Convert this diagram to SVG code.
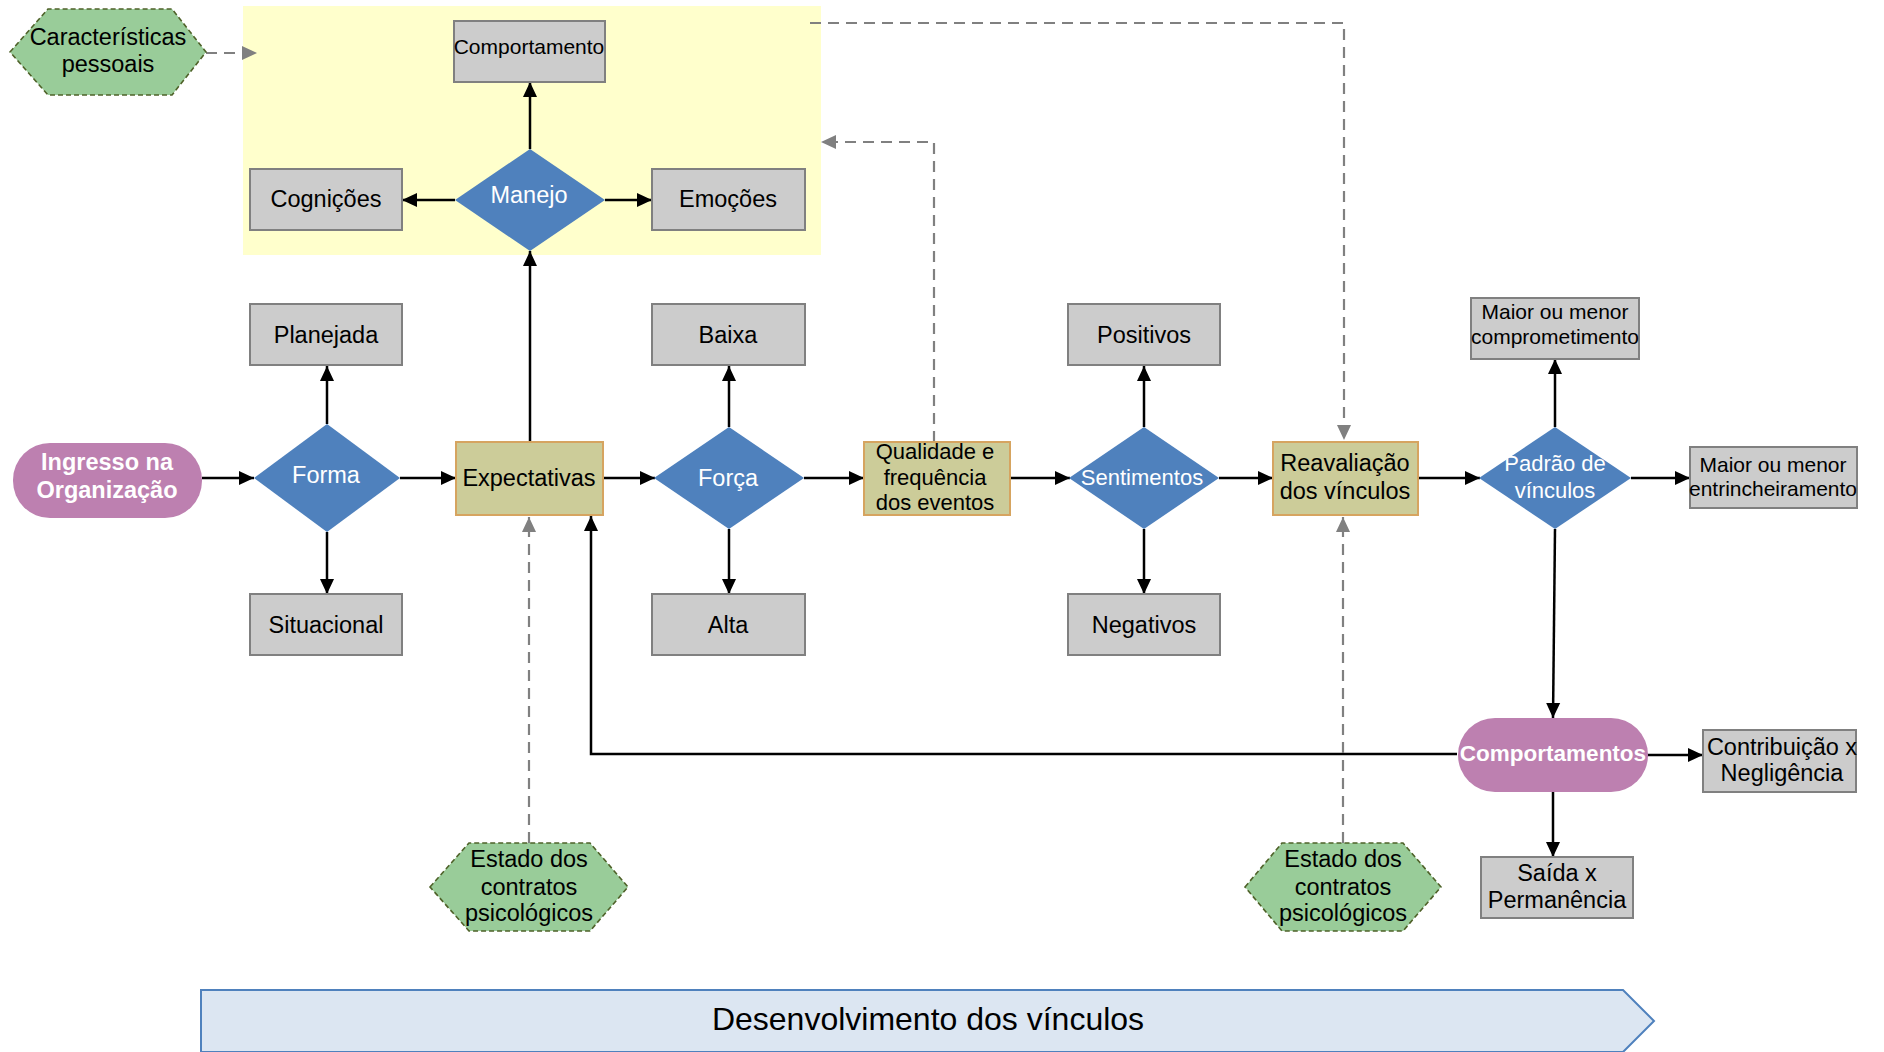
<svg xmlns="http://www.w3.org/2000/svg" width="1884" height="1052" viewBox="0 0 1884 1052">
  <defs>
    <marker id="ah" markerUnits="userSpaceOnUse" markerWidth="16" markerHeight="16" refX="15" refY="8" orient="auto">
      <path d="M0,1 L15,8 L0,15 z" fill="#000"/>
    </marker>
    <marker id="ahg" markerUnits="userSpaceOnUse" markerWidth="16" markerHeight="16" refX="15" refY="8" orient="auto">
      <path d="M0,1 L15,8 L0,15 z" fill="#808080"/>
    </marker>
    <style>
      text { font-family: "Liberation Sans", Arial, sans-serif; font-size: 23.5px; fill: #000; text-anchor: middle; }
      .small { font-size: 21px; }
      .w { fill: #fff; }
      .wb { fill: #fff; font-weight: bold; }
      .box { fill: #cccccc; stroke: #808080; stroke-width: 2; }
      .kbox { fill: #cccc99; stroke: #d6a460; stroke-width: 2; }
      .dia { fill: #4f81bd; }
      .pill { fill: #bd80b0; }
      .hex { fill: #99cc99; stroke: #4e6128; stroke-width: 1.6; stroke-dasharray: 5 3; }
      .ln { fill: none; stroke: #000; stroke-width: 2.5; marker-end: url(#ah); }
      .dl { fill: none; stroke: #808080; stroke-width: 2.2; stroke-dasharray: 11 7; marker-end: url(#ahg); }
    </style>
  </defs>

  <!-- management area background -->
  <rect x="243" y="6" width="578" height="249" fill="#ffffcc"/>

  <!-- development band -->
  <g id="band">
    <path d="M201,990 L1623,990 L1654,1021 L1623,1052 L201,1052 z" fill="#dce6f2" stroke="#4f81bd" stroke-width="2"/>
    <text x="928" y="1030" style="font-size:32px">Desenvolvimento dos vínculos</text>
  </g>

  <!-- connectors -->
  <g id="connectors">
    <path class="ln" d="M202,478 L254,478"/>
    <path class="ln" d="M400,478 L456,478"/>
    <path class="ln" d="M327,424 L327,366"/>
    <path class="ln" d="M327,532 L327,594"/>
    <path class="ln" d="M530,442 L530,251"/>
    <path class="ln" d="M530,149 L530,82"/>
    <path class="ln" d="M455,200 L402,200"/>
    <path class="ln" d="M605,200 L652,200"/>
    <path class="ln" d="M603,478 L655,478"/>
    <path class="ln" d="M729,427 L729,366"/>
    <path class="ln" d="M729,529 L729,594"/>
    <path class="ln" d="M804,478 L864,478"/>
    <path class="ln" d="M1010,478 L1070,478"/>
    <path class="ln" d="M1144,427 L1144,366"/>
    <path class="ln" d="M1144,529 L1144,594"/>
    <path class="ln" d="M1219,478 L1273,478"/>
    <path class="ln" d="M1418,478 L1480,478"/>
    <path class="ln" d="M1555,427 L1555,359"/>
    <path class="ln" d="M1631,478 L1690,478"/>
    <path class="ln" d="M1555,529 L1553,718"/>
    <path class="ln" d="M1647,755 L1703,755"/>
    <path class="ln" d="M1553,792 L1553,857"/>
    <path class="ln" d="M1457,754 L591,754 L591,516"/>

    <path class="dl" d="M206,53 L257,53"/>
    <path class="dl" d="M934,442 L934,142 L821,142"/>
    <path class="dl" d="M810,23 L1344,23 L1344,440"/>
    <path class="dl" d="M529,843 L529,517"/>
    <path class="dl" d="M1343,843 L1343,517"/>
  </g>

  <!-- nodes -->
  <g id="caracteristicas">
    <polygon class="hex" points="10,52 48,9 172,9 206,52 172,95 48,95"/>
    <text x="108" y="45">Características</text>
    <text x="108" y="72">pessoais</text>
  </g>
  <g id="comportamento">
    <rect class="box" x="454" y="21" width="151" height="61"/>
    <text class="small" x="529" y="54">Comportamento</text>
  </g>
  <g id="cognicoes">
    <rect class="box" x="250" y="169" width="152" height="61"/>
    <text x="326" y="207">Cognições</text>
  </g>
  <g id="manejo">
    <polygon class="dia" points="530,149 605,200 530,251 455,200"/>
    <text class="w" x="529" y="203">Manejo</text>
  </g>
  <g id="emocoes">
    <rect class="box" x="652" y="169" width="153" height="61"/>
    <text x="728" y="207">Emoções</text>
  </g>

  <g id="ingresso">
    <rect class="pill" x="13" y="443" width="189" height="75" rx="37" ry="37"/>
    <text class="wb" x="107" y="470">Ingresso na</text>
    <text class="wb" x="107" y="498">Organização</text>
  </g>
  <g id="forma">
    <polygon class="dia" points="327,424 400,478 327,532 254,478"/>
    <text class="w" x="326" y="483">Forma</text>
  </g>
  <g id="planejada">
    <rect class="box" x="250" y="304" width="152" height="61"/>
    <text x="326" y="343">Planejada</text>
  </g>
  <g id="situacional">
    <rect class="box" x="250" y="594" width="152" height="61"/>
    <text x="326" y="633">Situacional</text>
  </g>
  <g id="expectativas">
    <rect class="kbox" x="456" y="442" width="147" height="73"/>
    <text x="529" y="486">Expectativas</text>
  </g>
  <g id="forca">
    <polygon class="dia" points="729,427 804,478 729,529 654,478"/>
    <text class="w" x="728" y="486">Força</text>
  </g>
  <g id="baixa">
    <rect class="box" x="652" y="304" width="153" height="61"/>
    <text x="728" y="343">Baixa</text>
  </g>
  <g id="alta">
    <rect class="box" x="652" y="594" width="153" height="61"/>
    <text x="728" y="633">Alta</text>
  </g>
  <g id="qualidade">
    <rect class="kbox" x="864" y="442" width="146" height="73"/>
    <text x="935" y="459" style="font-size:22px">Qualidade e</text>
    <text x="935" y="485" style="font-size:22px">frequência</text>
    <text x="935" y="510" style="font-size:22px">dos eventos</text>
  </g>
  <g id="sentimentos">
    <polygon class="dia" points="1144,427 1219,478 1144,529 1069,478"/>
    <text class="w" x="1142" y="485" style="font-size:22px">Sentimentos</text>
  </g>
  <g id="positivos">
    <rect class="box" x="1068" y="304" width="152" height="61"/>
    <text x="1144" y="343">Positivos</text>
  </g>
  <g id="negativos">
    <rect class="box" x="1068" y="594" width="152" height="61"/>
    <text x="1144" y="633">Negativos</text>
  </g>
  <g id="reavaliacao">
    <rect class="kbox" x="1273" y="442" width="145" height="73"/>
    <text x="1345" y="471">Reavaliação</text>
    <text x="1345" y="499">dos vínculos</text>
  </g>
  <g id="padrao">
    <polygon class="dia" points="1555,427 1631,478 1555,529 1479,478"/>
    <text class="w" x="1555" y="471" style="font-size:22px">Padrão de</text>
    <text class="w" x="1555" y="498" style="font-size:22px">vínculos</text>
  </g>
  <g id="comprometimento">
    <rect class="box" x="1471" y="298" width="168" height="61"/>
    <text class="small" x="1555" y="319">Maior ou menor</text>
    <text class="small" x="1555" y="344">comprometimento</text>
  </g>
  <g id="entrincheiramento">
    <rect class="box" x="1690" y="447" width="167" height="61"/>
    <text class="small" x="1773" y="472">Maior ou menor</text>
    <text class="small" x="1773" y="496">entrincheiramento</text>
  </g>
  <g id="comportamentos">
    <rect class="pill" x="1458" y="718" width="190" height="74" rx="37" ry="37"/>
    <text class="wb" x="1553" y="761" style="font-size:22.5px">Comportamentos</text>
  </g>
  <g id="contribuicao">
    <rect class="box" x="1703" y="730" width="153" height="62"/>
    <text x="1782" y="755">Contribuição x</text>
    <text x="1782" y="781">Negligência</text>
  </g>
  <g id="saida">
    <rect class="box" x="1481" y="857" width="152" height="61"/>
    <text x="1557" y="881">Saída x</text>
    <text x="1557" y="908">Permanência</text>
  </g>
  <g id="estado1">
    <polygon class="hex" points="430,887 469,843 590,843 628,887 590,931 469,931"/>
    <text x="529" y="867">Estado dos</text>
    <text x="529" y="895">contratos</text>
    <text x="529" y="921">psicológicos</text>
  </g>
  <g id="estado2">
    <polygon class="hex" points="1245,887 1282,843 1403,843 1441,887 1403,931 1282,931"/>
    <text x="1343" y="867">Estado dos</text>
    <text x="1343" y="895">contratos</text>
    <text x="1343" y="921">psicológicos</text>
  </g>
</svg>
